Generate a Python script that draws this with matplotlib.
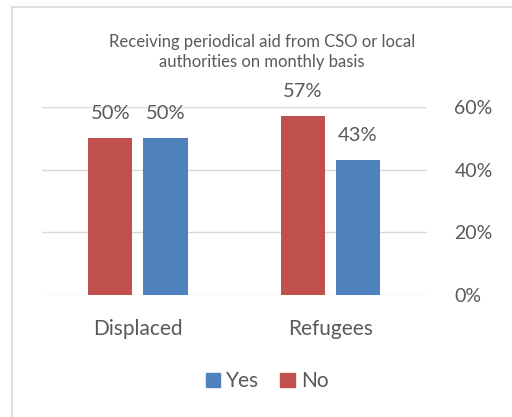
import numpy as np
import matplotlib.pyplot as plt
from matplotlib.lines import Line2D
from matplotlib.patches import Patch

categories = ["Displaced", "Refugees"]
no_vals = [50, 57]
yes_vals = [50, 43]
y_ticks = [0, 20, 40, 60]
title = "Receiving periodical aid from CSO or local\nauthorities on monthly basis"

RED = "#C0504D"
BLUE = "#4F81BD"
GREY = "#595959"

plt.rcParams["font.family"] = ["Lato", "DejaVu Sans"]

fig = plt.figure(figsize=(5.12, 4.17), dpi=100)
ax = fig.add_axes([0.0814, 0.2926, 0.752, 0.4508])

x = np.arange(len(categories))
w = 0.229
b_no = ax.bar(x - 0.143, no_vals, w, color=RED, zorder=3)
b_yes = ax.bar(x + 0.143, yes_vals, w, color=BLUE, zorder=3)

for bars, vals in ((b_no, no_vals), (b_yes, yes_vals)):
    for r, v in zip(bars, vals):
        ax.annotate(f"{v}%", (r.get_x() + r.get_width() / 2, v),
                    xytext=(0, 12), textcoords="offset points",
                    ha="center", va="bottom", fontsize=14.5, color=GREY,
                    annotation_clip=False)

ax.set_xlim(-0.5, 1.5)
ax.set_ylim(0, 60)
ax.set_yticks(y_ticks)
ax.set_yticklabels([f"{t}%" for t in y_ticks])
ax.yaxis.tick_right()
ax.set_xticks(x)
ax.set_xticklabels(categories)
ax.tick_params(axis="y", length=0, pad=20, labelsize=14, labelcolor=GREY)
ax.tick_params(axis="x", length=0, pad=17, labelsize=15, labelcolor=GREY)
ax.grid(axis="y", color="#D9D9D9", linewidth=1, zorder=0)
for s in ax.spines.values():
    s.set_visible(False)

fig.text(0.512, 0.876, title, ha="center", va="center", fontsize=12,
         color=GREY, linespacing=1.3)

handles = [Patch(color=BLUE, label="Yes"), Patch(color=RED, label="No")]
fig.legend(handles=handles, loc="center", bbox_to_anchor=(0.522, 0.086),
           ncol=2, frameon=False, fontsize=15, handlelength=0.7,
           handleheight=0.7, handletextpad=0.3, columnspacing=1.0,
           labelcolor=GREY)

# chart area border (top and left visible)
fig.add_artist(Line2D([0.0235, 0.0235], [0, 0.983], color="#D9D9D9", lw=1.2,
                      transform=fig.transFigure))
fig.add_artist(Line2D([0.0235, 1], [0.983, 0.983], color="#D9D9D9", lw=1.2,
                      transform=fig.transFigure))

fig.savefig("out.png", dpi=100)
